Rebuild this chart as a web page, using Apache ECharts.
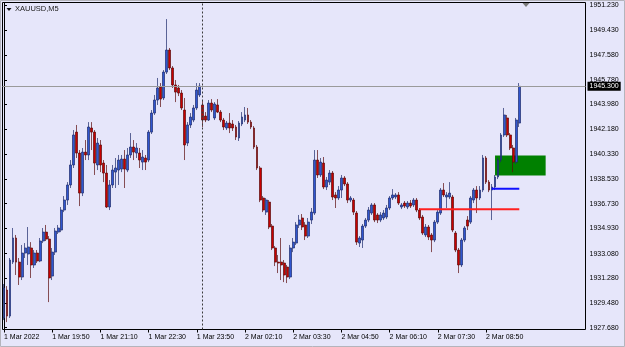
<!DOCTYPE html>
<html><head><meta charset="utf-8">
<script src="https://cdn.jsdelivr.net/npm/echarts@6/dist/echarts.min.js"></script>
<style>html,body{margin:0;padding:0;background:#e6e6fa;}#c{width:625px;height:347px;}</style>
</head><body><div id="c"></div><script>
// ---- data (XAUUSD, M5) ----
const openP=[1928.39,1930.43,1928.53,1932.47,1934.23,1932.47,1931.38,1933.13,1933.06,1933.50,1932.26,1933.13,1932.55,1934.01,1934.66,1934.15,1931.45,1933.20,1934.66,1934.81,1936.27,1937.00,1938.10,1939.56,1941.96,1940.43,1937.51,1940.50,1940.29,1942.26,1941.96,1939.56,1941.02,1939.70,1938.97,1936.49,1938.10,1939.04,1939.19,1939.26,1939.99,1939.19,1940.29,1940.87,1940.43,1940.43,1939.77,1940.07,1939.92,1941.96,1943.35,1944.30,1945.25,1944.45,1946.34,1947.95,1946.64,1945.40,1945.18,1944.81,1943.57,1941.16,1942.48,1942.84,1943.72,1944.67,1943.94,1943.13,1942.84,1944.08,1942.99,1943.94,1943.42,1942.84,1942.26,1942.62,1942.55,1942.33,1941.53,1942.55,1942.84,1943.21,1942.69,1942.26,1940.87,1939.34,1937.15,1936.12,1936.85,1935.10,1933.50,1932.47,1932.47,1932.40,1932.11,1931.38,1933.50,1933.86,1935.18,1935.69,1935.18,1934.37,1935.54,1936.05,1939.92,1938.83,1939.70,1937.95,1938.31,1938.97,1937.37,1937.15,1937.73,1938.61,1938.17,1937.00,1937.00,1936.05,1933.86,1934.08,1935.10,1935.54,1936.05,1936.64,1935.91,1935.54,1935.69,1935.76,1936.42,1937.15,1937.22,1937.37,1936.49,1936.78,1936.49,1936.78,1936.64,1937.00,1936.27,1935.76,1934.45,1935.03,1934.45,1934.08,1935.39,1936.05,1937.73,1937.22,1937.22,1937.22,1934.59,1933.35,1932.26,1934.08,1935.54,1935.39,1937.00,1937.73,1937.15,1937.73,1940.07,1938.31,1937.73,1937.95,1938.68,1939.92,1941.75,1942.99,1941.75,1940.80,1939.77,1942.62];
const closeP=[1930.58,1928.53,1932.62,1934.23,1932.47,1931.38,1933.13,1933.50,1933.57,1932.26,1933.13,1932.55,1934.01,1934.66,1934.15,1931.31,1933.20,1934.74,1934.96,1936.27,1937.00,1938.10,1939.56,1941.75,1940.43,1937.51,1940.50,1940.29,1942.33,1941.96,1939.70,1941.16,1939.56,1938.97,1936.49,1938.10,1939.19,1939.34,1939.92,1939.99,1939.26,1940.29,1940.87,1940.50,1940.80,1939.92,1940.14,1939.77,1941.96,1943.35,1944.30,1945.18,1944.37,1946.34,1947.95,1946.64,1945.40,1944.88,1944.81,1943.72,1941.02,1942.48,1943.06,1943.72,1945.03,1945.32,1942.84,1942.84,1944.08,1943.57,1944.01,1943.42,1942.84,1942.33,1942.62,1942.26,1942.26,1941.60,1942.62,1943.06,1943.21,1942.69,1942.33,1940.87,1939.34,1937.00,1936.27,1937.00,1935.03,1933.50,1932.47,1932.40,1932.26,1931.53,1931.38,1933.50,1933.93,1935.18,1935.54,1935.03,1934.37,1935.39,1936.12,1939.92,1938.83,1939.77,1937.95,1938.46,1938.97,1937.22,1937.15,1937.73,1938.61,1938.17,1937.00,1937.15,1936.12,1933.93,1934.23,1935.10,1935.54,1936.27,1936.64,1935.54,1935.54,1935.91,1936.05,1936.42,1937.15,1937.37,1937.37,1936.78,1936.64,1936.56,1936.78,1936.56,1937.00,1936.27,1935.69,1934.59,1935.03,1934.30,1934.08,1935.39,1936.12,1937.73,1937.37,1937.37,1937.51,1934.81,1933.35,1932.26,1934.08,1934.96,1935.10,1937.15,1937.73,1937.15,1937.73,1940.07,1938.31,1937.73,1937.95,1938.68,1939.92,1941.75,1943.21,1941.75,1940.80,1939.77,1942.84,1945.30];
const lowP=[1928.24,1928.09,1928.39,1932.33,1931.53,1930.80,1931.16,1932.77,1932.26,1931.31,1932.04,1932.40,1932.47,1933.86,1934.01,1929.55,1931.16,1932.99,1934.52,1934.66,1936.12,1936.64,1937.88,1939.34,1940.07,1936.56,1937.29,1939.92,1939.92,1940.65,1938.83,1939.19,1939.04,1938.31,1936.42,1936.27,1937.88,1937.88,1938.10,1939.04,1937.88,1939.04,1940.07,1939.92,1940.07,1939.34,1939.19,1939.19,1939.77,1941.82,1943.21,1943.94,1943.79,1944.30,1946.20,1946.49,1945.18,1944.15,1944.59,1943.57,1939.92,1940.94,1942.26,1942.69,1943.57,1944.52,1942.33,1942.69,1942.77,1943.42,1942.84,1943.35,1942.69,1942.11,1942.11,1941.89,1942.04,1941.38,1941.31,1942.40,1942.69,1942.55,1942.18,1940.72,1939.19,1936.85,1936.12,1935.91,1934.88,1933.35,1932.18,1931.67,1931.16,1931.01,1930.94,1931.23,1933.20,1933.72,1934.96,1934.81,1934.08,1934.23,1935.25,1935.91,1938.61,1938.68,1937.80,1937.73,1938.10,1937.00,1936.42,1937.00,1937.15,1938.02,1936.78,1936.85,1935.91,1933.72,1933.57,1933.50,1934.96,1935.39,1935.91,1935.39,1935.32,1935.39,1935.54,1935.61,1936.27,1937.00,1937.07,1936.64,1936.34,1936.42,1936.34,1936.42,1936.49,1936.12,1935.54,1934.45,1934.30,1934.08,1933.20,1933.93,1935.25,1935.91,1937.22,1936.42,1937.07,1934.66,1933.20,1931.67,1932.11,1933.93,1934.81,1935.25,1936.78,1936.05,1937.00,1937.58,1938.17,1937.58,1935.54,1937.73,1938.53,1939.77,1941.60,1941.60,1940.65,1939.04,1939.63,1942.33];
const highP=[1930.87,1930.72,1932.77,1934.96,1934.45,1932.77,1933.72,1933.86,1935.03,1933.93,1933.35,1933.35,1934.23,1934.96,1935.18,1934.37,1933.50,1934.96,1935.18,1936.49,1937.29,1938.31,1939.92,1942.11,1942.48,1940.65,1940.80,1941.38,1942.69,1942.69,1942.11,1941.53,1941.38,1939.92,1939.56,1938.46,1939.56,1940.07,1940.29,1940.29,1940.65,1940.80,1941.89,1941.38,1941.16,1940.80,1940.65,1940.29,1942.11,1943.57,1944.67,1945.91,1945.54,1946.49,1950.21,1948.10,1946.78,1945.76,1945.40,1945.03,1944.45,1942.69,1943.35,1943.94,1945.54,1945.54,1944.30,1943.42,1944.30,1944.37,1944.15,1944.37,1943.57,1942.99,1942.77,1943.35,1942.84,1942.48,1942.77,1943.42,1943.79,1943.72,1942.84,1942.40,1941.02,1939.48,1937.29,1937.15,1937.00,1935.25,1933.64,1932.99,1934.23,1932.62,1932.26,1933.72,1934.23,1935.39,1935.91,1935.98,1935.39,1935.69,1936.42,1940.65,1940.65,1940.07,1940.14,1938.68,1939.19,1939.12,1937.58,1938.02,1938.83,1938.75,1938.31,1937.29,1937.15,1936.20,1934.37,1935.25,1935.69,1936.49,1936.78,1936.78,1936.05,1936.12,1936.27,1936.64,1937.29,1937.80,1937.51,1937.58,1936.78,1936.93,1936.93,1937.00,1937.15,1937.15,1936.42,1935.91,1935.25,1935.18,1934.59,1935.54,1936.27,1937.88,1938.24,1937.58,1938.31,1937.37,1934.74,1933.50,1934.23,1935.10,1935.83,1937.29,1937.88,1938.02,1938.02,1940.29,1940.21,1938.46,1938.17,1938.83,1940.07,1941.89,1943.72,1943.21,1941.89,1941.02,1942.99,1945.54];
const xTickLabels=['1 Mar 2022','1 Mar 19:50','1 Mar 21:10','1 Mar 22:30','1 Mar 23:50','2 Mar 02:10','2 Mar 03:30','2 Mar 04:50','2 Mar 06:10','2 Mar 07:30','2 Mar 08:50'];
const barsPerTick=16;
const yTickValues=[1927.68,1929.48,1931.28,1933.08,1934.93,1936.73,1938.53,1940.33,1942.18,1943.98,1945.78,1947.58,1949.43,1951.23];
const currentPrice=1945.30;
const daySeparatorBar=65.75;
const zoneBars=[163.0,179.8];
const zonePrices=[1938.80,1940.26];
const blueLevelBars=[161.9,171.05];
const blueLevelPrice=1937.82;
const redLevelBars=[137.9,171.05];
const redLevelPrice=1936.32;

// ---- layout ----
const yMin=1927.55, yMax=1951.42;
const totalSlots=194;
const FONT='Liberation Sans';
const cats=[];
const candles=[];
for(let i=0;i<totalSlots;i++){
  cats.push(String(i));
  if(i<openP.length) candles.push([openP[i],closeP[i],lowP[i],highP[i]]);
  else candles.push('-');
}
const isTick=i=>i%barsPerTick===0 && i/barsPerTick<xTickLabels.length;

const chart=echarts.init(document.getElementById('c'),null,{renderer:'canvas'});
chart.setOption({
  animation:false,
  backgroundColor:'#e6e6fa',
  grid:[
    {left:2.5,top:2.5,width:583,height:327,show:true,backgroundColor:'#e6e6fa',borderColor:'#000',borderWidth:1},
    {left:2.494,top:2.5,width:584.4,height:327}
  ],
  xAxis:[
    {gridIndex:0,type:'value',min:-0.498,max:193.03,show:false},
    {gridIndex:1,type:'category',data:cats,boundaryGap:true,
     axisLine:{show:false},
     axisTick:{show:true,alignWithLabel:true,interval:(i)=>isTick(i),length:3,lineStyle:{color:'#000',width:1}},
     axisLabel:{interval:(i)=>isTick(i),formatter:(v,i)=>isTick(i)?xTickLabels[i/barsPerTick]:'',
       align:'left',margin:4,fontSize:7,fontFamily:FONT,color:'#000'},
     splitLine:{show:false}}
  ],
  yAxis:[
    {gridIndex:0,type:'value',position:'right',min:yMin,max:yMax,
     axisLine:{show:true,lineStyle:{color:'#000',width:1}},
     axisTick:{show:true,length:3,customValues:yTickValues,lineStyle:{color:'#000'}},
     axisLabel:{customValues:yTickValues,formatter:v=>v.toFixed(3),margin:4,fontSize:7,fontFamily:FONT,color:'#000'},
     splitLine:{show:false}},
    {gridIndex:1,type:'value',min:yMin,max:yMax,show:false}
  ],
  series:[
    {type:'line',xAxisIndex:0,yAxisIndex:0,data:[],z:1,silent:true,
     markArea:{silent:true,itemStyle:{color:'#008000'},
       data:[[{xAxis:zoneBars[0],yAxis:zonePrices[1]},{xAxis:zoneBars[1],yAxis:zonePrices[0]}]]},
     markLine:{silent:true,symbol:['none','none'],label:{show:false},
       lineStyle:{color:'#3a3a3a',width:1,type:[2,2]},
       data:[{xAxis:daySeparatorBar}]}
    },
    {type:'candlestick',xAxisIndex:1,yAxisIndex:1,data:candles,barWidth:2.4,z:3,
     itemStyle:{color:'#3056d0',color0:'#c80000',borderColor:'#1c2a6a',borderColor0:'#5a0a0a',borderWidth:0.7}},
    {type:'line',xAxisIndex:0,yAxisIndex:0,z:4,silent:true,showSymbol:false,
     data:[[redLevelBars[0],redLevelPrice],[redLevelBars[1],redLevelPrice]],
     lineStyle:{color:'#ff2020',width:2}},
    {type:'line',xAxisIndex:0,yAxisIndex:0,z:4,silent:true,showSymbol:false,
     data:[[blueLevelBars[0],blueLevelPrice],[blueLevelBars[1],blueLevelPrice]],
     lineStyle:{color:'#1010ff',width:2}},
    {type:'line',xAxisIndex:0,yAxisIndex:0,data:[],z:6,silent:true,
     markLine:{silent:true,symbol:['none','none'],
       lineStyle:{color:'#9a9a9a',width:1,type:'solid'},
       label:{show:true,position:'end',distance:2,formatter:()=>currentPrice.toFixed(3),
         color:'#fff',backgroundColor:'#000',padding:[1,2,1,2],fontSize:7,fontFamily:FONT},
       data:[{yAxis:currentPrice}]}
    }
  ],
  graphic:[
    {type:'rect',shape:{x:0.5,y:0.5,width:624,height:346},style:{fill:null,stroke:'#b4b4bc',lineWidth:1},silent:true},
    {type:'polygon',shape:{points:[[6.5,8],[11.5,8],[9,11]]},style:{fill:'#111'},silent:true},
    {type:'text',x:15,y:5,style:{text:'XAUUSD,M5',font:'7.5px "Liberation Sans"',fill:'#222'},silent:true},
    {type:'polygon',shape:{points:[[522.5,3],[529.5,3],[526,7]]},style:{fill:'#7a7a7a'},silent:true}
  ]
});
</script></body></html>
